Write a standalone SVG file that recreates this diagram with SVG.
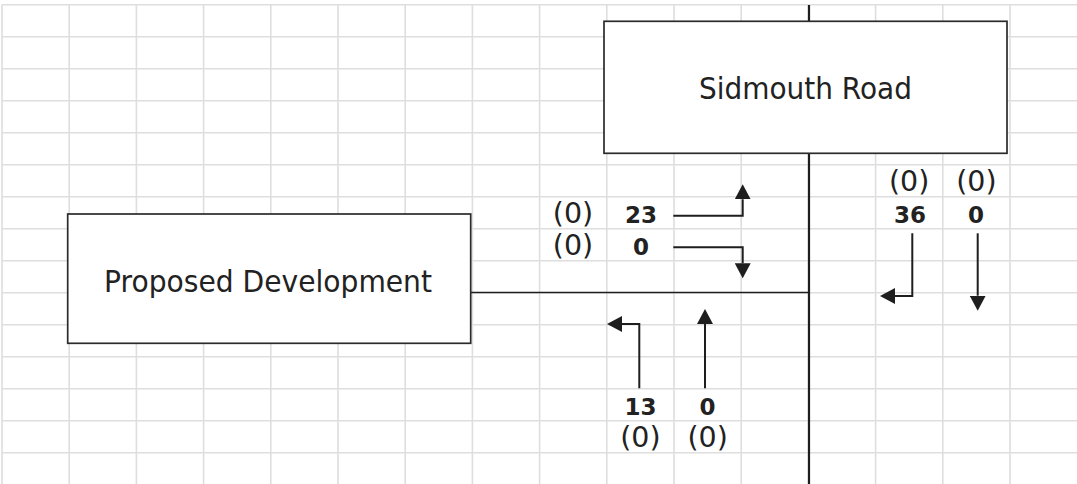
<svg xmlns="http://www.w3.org/2000/svg" width="1077" height="484" viewBox="0 0 1077 484">
  <style>
    .grid { stroke: #dedede; stroke-width: 1.6; fill: none; }
    .box { fill: #ffffff; stroke: #2b2b2b; stroke-width: 1.7; }
    .road { stroke: #1e1e1e; fill: none; }
    .flow { stroke: #1e1e1e; stroke-width: 2; fill: none; marker-end: url(#head); }
    .label { font-family: "DejaVu Sans", Verdana, sans-serif; font-size: 30px; fill: #222222; text-anchor: middle; }
    .prev { font-family: "DejaVu Sans", Verdana, sans-serif; font-size: 28.5px; fill: #222222; text-anchor: middle; }
    .count { font-family: "DejaVu Sans", Verdana, sans-serif; font-size: 23px; font-weight: bold; fill: #222222; text-anchor: middle; }
  </style>
  <defs>
    <marker id="head" viewBox="0 -8 15 16" refX="0" refY="0" markerWidth="15" markerHeight="16" markerUnits="userSpaceOnUse" orient="auto">
      <path d="M0,-8 L15,0 L0,8 z" fill="#1e1e1e"/>
    </marker>
  </defs>

  <rect width="1077" height="484" fill="#ffffff"/>

  <!-- background grid -->
  <g id="grid">
    <path class="grid" d="M2,4.7 V484 M69.2,4.7 V484 M136.4,4.7 V484 M203.6,4.7 V484 M270.8,4.7 V484 M338,4.7 V484 M405.2,4.7 V484 M472.4,4.7 V484 M539.6,4.7 V484 M606.8,4.7 V484 M674,4.7 V484 M741.2,4.7 V484 M808.4,4.7 V484 M875.6,4.7 V484 M942.8,4.7 V484 M1010,4.7 V484"/>
    <path class="grid" d="M2,4.7 H1077 M2,36.7 H1077 M2,68.7 H1077 M2,100.7 H1077 M2,132.7 H1077 M2,164.7 H1077 M2,196.7 H1077 M2,228.7 H1077 M2,260.7 H1077 M2,292.7 H1077 M2,324.7 H1077 M2,356.7 H1077 M2,388.7 H1077 M2,420.7 H1077 M2,452.7 H1077"/>
  </g>

  <!-- road centre lines and turning movements -->
  <g id="connectors">
    <path class="road" stroke-width="2.2" d="M809,5 V484"/>
    <path class="road" stroke-width="1.7" d="M470.7,292.5 H809"/>
    <path class="flow" d="M673.3,215.7 H742.7 V199.3"/>
    <path class="flow" d="M673.3,247.3 H742.7 V263.3"/>
    <path class="flow" d="M912.3,233.3 V296 H895"/>
    <path class="flow" d="M977.7,233.3 V295.7"/>
    <path class="flow" d="M639.3,388.3 V324 H622"/>
    <path class="flow" d="M705,388.3 V324"/>
  </g>

  <g id="sidmouth-road">
    <rect class="box" x="604" y="21.3" width="403" height="132"/>
    <text class="label" x="805.5" y="98.5" textLength="213" lengthAdjust="spacingAndGlyphs">Sidmouth Road</text>
  </g>

  <g id="proposed-development">
    <rect class="box" x="67.7" y="214" width="403" height="129.3"/>
    <text class="label" x="268" y="291.5" textLength="328" lengthAdjust="spacingAndGlyphs">Proposed Development</text>
  </g>

  <!-- flows out of the site access -->
  <g id="site-exit">
    <text class="prev" x="573" y="223">(0)</text>
    <text class="count" x="641" y="223">23</text>
    <text class="prev" x="573" y="255">(0)</text>
    <text class="count" x="641" y="255">0</text>
  </g>

  <!-- southbound flows -->
  <g id="southbound">
    <text class="prev" x="909.2" y="191">(0)</text>
    <text class="prev" x="976.4" y="191">(0)</text>
    <text class="count" x="910" y="223">36</text>
    <text class="count" x="976" y="223">0</text>
  </g>

  <!-- northbound flows -->
  <g id="northbound">
    <text class="count" x="640.6" y="414.8">13</text>
    <text class="count" x="707.6" y="414.8">0</text>
    <text class="prev" x="640.4" y="446.6">(0)</text>
    <text class="prev" x="707.6" y="446.6">(0)</text>
  </g>
</svg>
